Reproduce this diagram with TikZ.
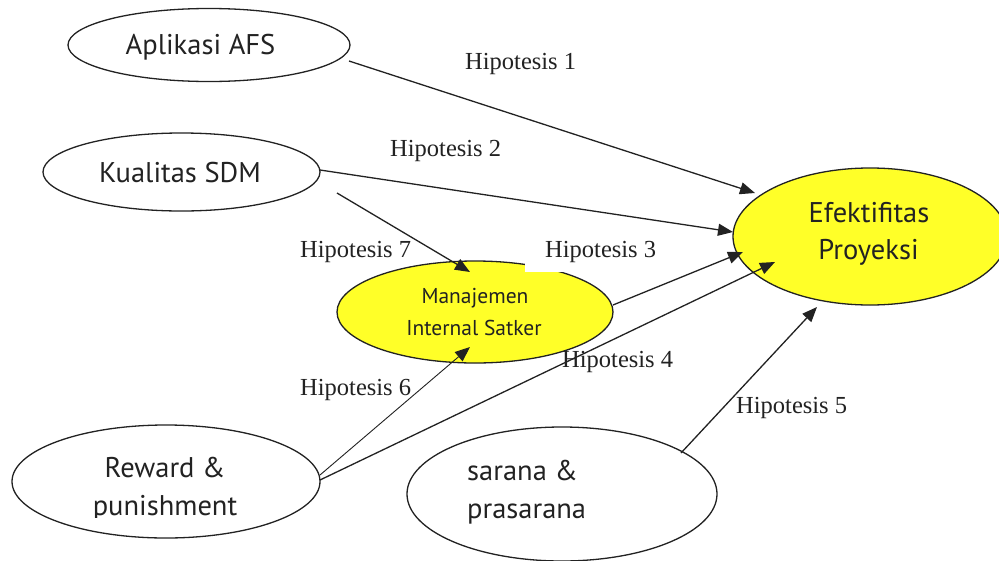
\documentclass[tikz,border=0pt]{standalone}
\usepackage{fontspec}
\setmainfont{Liberation Serif}
\newfontfamily\ovalfont{PT Sans}
\usetikzlibrary{shapes.geometric,arrows.meta,calc}
\definecolor{ink}{HTML}{222222}
\definecolor{hiyellow}{RGB}{255,255,40}

\begin{document}
\begin{tikzpicture}[x=1pt,y=-1pt,
  oval/.style={ellipse, draw=ink, line width=1.3pt, inner sep=0pt},
  bigtxt/.style={font=\ovalfont\fontsize{28.5}{30}\selectfont, text=ink, inner sep=0pt, anchor=base},
  smalltxt/.style={font=\ovalfont\fontsize{21.5}{24}\selectfont, text=ink, inner sep=0pt, anchor=base},
  hyp/.style={font=\fontsize{24.5}{26}\selectfont, text=ink, inner sep=0pt, anchor=base west},
  link/.style={draw=ink, line width=1.3pt, -{Triangle[length=15pt,width=12pt]}},
]
\useasboundingbox (0,0) rectangle (999,560);
\fill[white] (0,0) rectangle (999,560);

% variables
\node[oval, minimum width=282pt, minimum height=73pt] (afs) at (209,45) {};
\node[oval, minimum width=277pt, minimum height=78pt] (sdm) at (181.5,172) {};
\node[oval, fill=hiyellow, minimum width=276pt, minimum height=102pt] (man) at (475,312) {};
\node[oval, fill=hiyellow, minimum width=274pt, minimum height=137pt] (eff) at (870,236.5) {};
\node[oval, minimum width=308pt, minimum height=113pt] (rew) at (166,481.5) {};
\node[oval, minimum width=310pt, minimum height=134pt] (sar) at (562,494) {};

% variable names
\node[bigtxt] (afsT) at (200.5,54) {Aplikasi AFS};
\node[bigtxt] (sdmT) at (180,182) {Kualitas SDM};
\node[smalltxt] (manT1) at (475,303) {Manajemen};
\node[smalltxt] (manT2) at (474,335) {Internal Satker};
\node[bigtxt] (effT1) at (869,222) {Efektifitas};
\node[bigtxt] (effT2) at (868.5,259) {Proyeksi};
\node[bigtxt] (rewT1) at (165,477) {Reward \&};
\begin{scope}
  \clip (0,0) rectangle (999,517);
  \node[bigtxt] (rewT2) at (165,515) {punishment};
\end{scope}
\node[bigtxt, anchor=base west] (sarT1) at (467,480) {sarana \&};
\node[bigtxt, anchor=base west] (sarT2) at (467,518) {prasarana};

% hypothesis labels
\node[hyp] (h1) at (465,69) {Hipotesis 1};
\node[hyp] (h2) at (390,156) {Hipotesis 2};
\node[hyp] (h7) at (300,257) {Hipotesis 7};
\node[hyp, fill=white, inner xsep=20pt, inner ysep=10pt] (h3) at (525,257) {Hipotesis 3};
\node[hyp] (h4) at (562,367) {Hipotesis 4};
\node[hyp] (h6) at (300,395) {Hipotesis 6};
\node[hyp] (h5) at (736,413) {Hipotesis 5};

% hypothesised relations
\draw[link] ($(afs.center)+(140,16)$) -- ($(eff.center)+(-115,-43.5)$);
\draw[link] ($(sdm.center)+(138.5,-2)$) -- ($(eff.center)+(-137,-4.5)$);
\draw[link] ($(sdm.center)+(155.5,21)$) -- ($(man.center)+(-5,-40)$);
\draw[link] ($(man.center)+(138,-7)$) -- ($(eff.center)+(-127,15.5)$);
\draw[link] ($(rew.center)+(154,-1.5)$) -- ($(eff.center)+(-95,25.5)$);
\draw[link, line width=0.9pt] ($(rew.center)+(154,-6.5)$) -- ($(man.center)+(-5,35)$);
\draw[link] ($(sar.center)+(119,-41)$) -- ($(eff.center)+(-53,70.5)$);
\end{tikzpicture}
\end{document}
